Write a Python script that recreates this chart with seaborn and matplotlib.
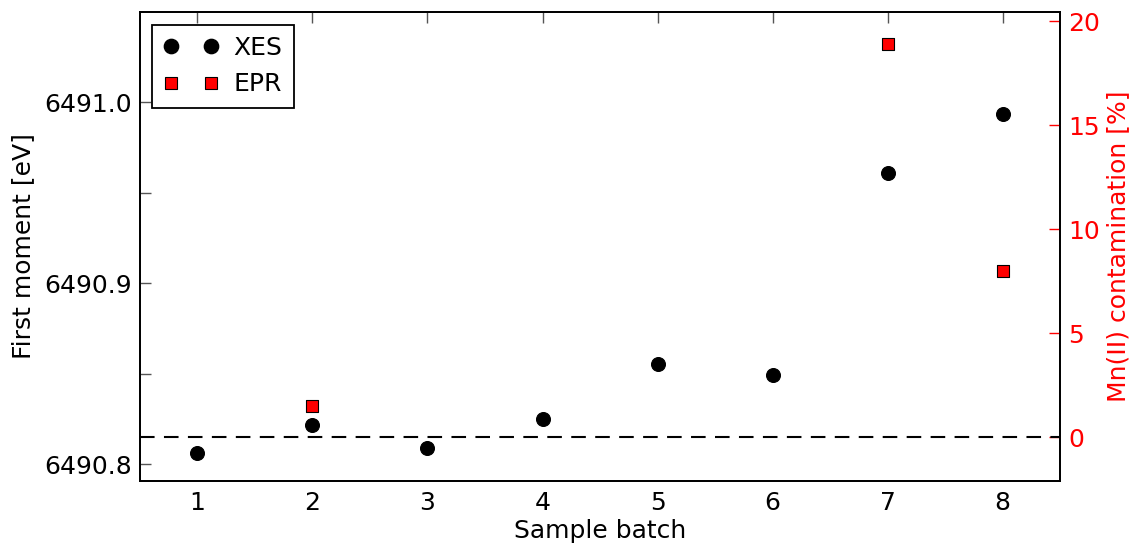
import matplotlib
import matplotlib.pyplot as plt
import pandas as pd
import seaborn as sns
from matplotlib.lines import Line2D

matplotlib.use("Agg")

# --- Datos ---
batch = [1, 2, 3, 4, 5, 6, 7, 8]
xes_moment = [6490.806, 6490.8215, 6490.809, 6490.825, 6490.855, 6490.849, 6490.961, 6490.9935]
epr_batch = [2, 7, 8]
epr_mn2 = [1.5, 18.9, 8.0]

sns.set_style("white")
plt.rcParams.update(
    {
        "font.family": ["DejaVu Sans"],
        "font.size": 18,
        "text.color": "black",
        "axes.labelcolor": "black",
        "xtick.color": "black",
        "ytick.color": "black",
        "xtick.direction": "in",
        "ytick.direction": "in",
        "axes.edgecolor": "black",
        "axes.linewidth": 1.3,
    }
)

df_xes = pd.DataFrame({"batch": batch, "moment": xes_moment})
df_epr = pd.DataFrame({"batch": epr_batch, "mn2": epr_mn2})

fig = plt.figure(figsize=(11.35, 5.48), dpi=100)
ax = fig.add_axes([0.1233, 0.1222, 0.8107, 0.8558])
ax2 = ax.twinx()

sns.scatterplot(data=df_xes, x="batch", y="moment", ax=ax, color="black",
                marker="o", s=100, edgecolor="black", linewidth=0.8, zorder=3)
sns.scatterplot(data=df_epr, x="batch", y="mn2", ax=ax2, color="red",
                marker="s", s=85, edgecolor="black", linewidth=0.8, zorder=3)
ax2.axhline(0, color="black", linestyle=(0, (7, 4.5)), linewidth=1.5)

ax.set_xlim(0.5, 8.5)
ax.set_ylim(6490.7906, 6491.0497)
ax2.set_ylim(-2.115, 20.43)

ax.set_xticks(batch)
ax.set_yticks([6490.8, 6490.85, 6490.9, 6490.95, 6491.0])
ax.set_yticklabels(["6490.8", "", "6490.9", "", "6491.0"])
ax2.set_yticks([0, 5, 10, 15, 20])

ax.tick_params(axis="both", which="major", length=8, width=1, top=True, labelsize=18,
               color="#555555", labelcolor="black")
ax.tick_params(axis="x", pad=7)
ax.tick_params(axis="y", right=False, pad=6)
ax2.tick_params(axis="y", length=8, width=1, colors="red", labelsize=18, pad=6)

ax.set_xlabel("Sample batch", fontsize=18, labelpad=3)
ax.set_ylabel("First moment [eV]", fontsize=18, labelpad=6)
ax2.set_ylabel("Mn(II) contamination [%]", fontsize=18, color="red", labelpad=4)

# Leyenda combinada al estilo clásico (dos marcadores por entrada)
h1 = Line2D([], [], linestyle="none", marker="o", markersize=10.3,
            markerfacecolor="black", markeredgecolor="black")
h2 = Line2D([], [], linestyle="none", marker="s", markersize=9.0,
            markerfacecolor="red", markeredgecolor="black", markeredgewidth=0.8)
leg = ax2.legend([h1, h2], ["XES", "EPR"], loc="upper left", numpoints=2,
                 fancybox=False, frameon=True, edgecolor="black", fontsize=18,
                 borderpad=0.45, handletextpad=0.6, handlelength=2.2,
                 borderaxespad=0.5, labelspacing=0.5)
leg.get_frame().set_linewidth(1.3)
leg.get_frame().set_alpha(1)

fig.savefig("out.png", dpi=100)
plt.close(fig)
